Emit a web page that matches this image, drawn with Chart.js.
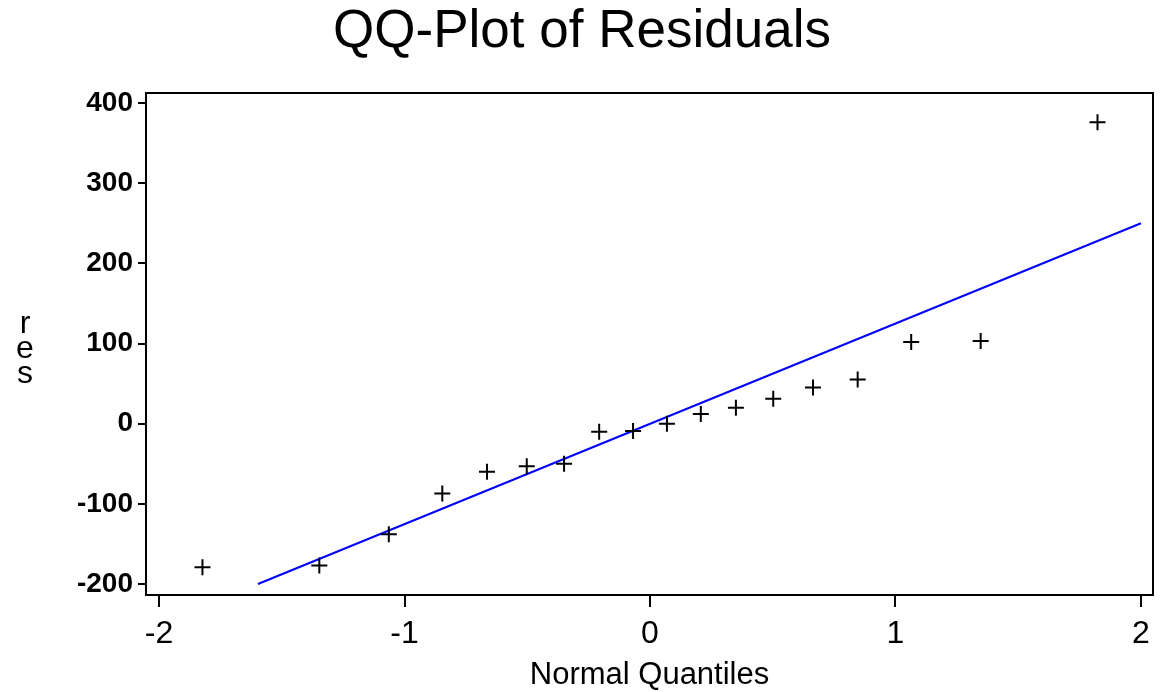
<!DOCTYPE html>
<html>
<head>
<meta charset="utf-8">
<script src="https://cdn.jsdelivr.net/npm/chart.js@4.4.1/dist/chart.umd.min.js"></script>
<style>
  html, body { margin: 0; padding: 0; background: #fff; }
  #wrap { width: 1163px; height: 692px; }
</style>
</head>
<body>
<div id="wrap"><canvas id="qqChart"></canvas></div>
<script>
    // normal quantiles (Blom) and sorted residuals
    const quantiles = [-1.823, -1.347, -1.064, -0.846, -0.664, -0.502, -0.350, -0.207, -0.069,
                       0.069, 0.207, 0.350, 0.502, 0.664, 0.846, 1.064, 1.347, 1.823];
    const residuals = [-179, -177, -138, -87, -60, -53, -50, -10, -9,
                       0, 12, 20, 31, 45, 55, 102, 103, 376];

    // reference line end points
    const lineX = [-1.597, 2];
    const lineY = [-200, 250];

    const xTicks = [-2, -1, 0, 1, 2];
    const yTicks = [-200, -100, 0, 100, 200, 300, 400];

    const chartTitle = 'QQ-Plot of Residuals';
    const xTitle = 'Normal Quantiles';
    const yTitle = ['r', 'e', 's'];

    const font = "'Liberation Sans', Arial, sans-serif";

    // frame, title and stacked y label
    const decorations = {
        id: 'decorations',
        afterDraw(chart) {
            const ctx = chart.ctx;
            const a = chart.chartArea;
            ctx.save();
            ctx.strokeStyle = '#000';
            ctx.lineWidth = 2;
            ctx.strokeRect(a.left, a.top, a.right - a.left, a.bottom - a.top);

            ctx.fillStyle = '#000';
            ctx.textAlign = 'center';
            ctx.textBaseline = 'middle';
            ctx.font = '53px ' + font;
            ctx.fillText(chartTitle, 582, 32);

            ctx.font = '32px ' + font;
            yTitle.forEach((ch, i) => ctx.fillText(ch, 25, 324 + i * 25));
            ctx.restore();
        }
    };

    const ctx = document.getElementById('qqChart').getContext('2d');
    new Chart(ctx, {
        type: 'scatter',
        data: {
            datasets: [{
                label: 'res',
                data: quantiles.map((q, i) => ({ x: q, y: residuals[i] })),
                pointStyle: 'cross',
                pointRadius: 8,
                pointHoverRadius: 8,
                borderWidth: 2,
                borderColor: '#000',
                backgroundColor: '#000'
            }, {
                type: 'line',
                label: 'normal line',
                data: lineX.map((x, i) => ({ x: x, y: lineY[i] })),
                borderColor: '#0000ff',
                borderWidth: 2,
                pointRadius: 0,
                fill: false
            }]
        },
        options: {
            responsive: true,
            maintainAspectRatio: false,
            animation: false,
            layout: { padding: { top: 93, right: 10, left: 0, bottom: 0 } },
            plugins: {
                legend: { display: false },
                title: { display: false },
                tooltip: { enabled: false }
            },
            scales: {
                x: {
                    type: 'linear',
                    min: -2.053,
                    max: 2.049,
                    afterBuildTicks: s => { s.ticks = xTicks.map(v => ({ value: v })); },
                    afterFit: s => { s.height = 97; },
                    border: { display: false },
                    grid: { drawOnChartArea: false, color: '#000', lineWidth: 2, tickLength: 12 },
                    ticks: { color: '#000', padding: 8, font: { family: font, size: 32 } },
                    title: {
                        display: true,
                        text: xTitle,
                        color: '#000',
                        font: { family: font, size: 31 },
                        padding: { top: 4, bottom: -2 }
                    }
                },
                y: {
                    min: -213.7,
                    max: 412.5,
                    afterBuildTicks: s => { s.ticks = yTicks.map(v => ({ value: v })); },
                    afterFit: s => { s.width = 146; },
                    border: { display: false },
                    grid: { drawOnChartArea: false, color: '#000', lineWidth: 2, tickLength: 8 },
                    ticks: { color: '#000', padding: 5, font: { family: font, size: 28, weight: 'bold' } }
                }
            }
        },
        plugins: [decorations]
    });
</script>
</body>
</html>
